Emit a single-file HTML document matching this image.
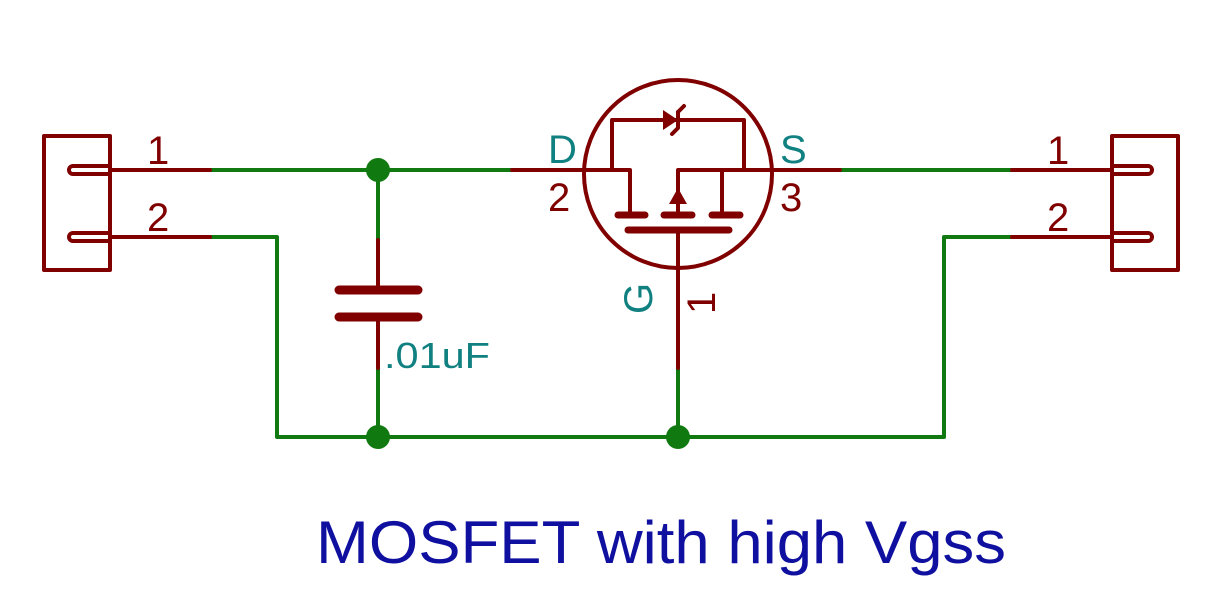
<!DOCTYPE html>
<html><head><style>body{margin:0;background:#fff}svg{display:block}</style></head><body>
<svg width="1219" height="607" viewBox="0 0 1219 607" xmlns="http://www.w3.org/2000/svg">
<g fill="none" stroke-linecap="round" stroke-linejoin="round">
<!-- green wires -->
<g stroke="#107a10" stroke-width="4">
<path d="M210 170H512"/>
<path d="M210 237H277V437H944V237H1012"/>
<path d="M840 170H1012"/>
<path d="M378 170V240"/>
<path d="M378 368V437"/>
<path d="M678 368V437"/>
</g>
<!-- red symbols -->
<g stroke="#800000" stroke-width="4">
<rect x="44" y="136" width="66" height="134"/>
<path d="M110 166H73a4 4 0 0 0 0 8H110"/>
<path d="M110 233H73a4 4 0 0 0 0 8H110"/>
<path d="M110 170H210M110 237H210"/>
<rect x="1112" y="136" width="66" height="134"/>
<path d="M1112 166H1148a4 4 0 0 1 0 8H1112"/>
<path d="M1112 233H1148a4 4 0 0 1 0 8H1112"/>
<path d="M1012 170H1112M1012 237H1112"/>
<path d="M378 240V290M378 317V368"/>
<path d="M339 290H418M339 317H418" stroke-width="9"/>
<circle cx="678" cy="174" r="94"/>
<path d="M512 170H630V215M612 170V120H744V170M678 170H840M722 170V215M678 215V170"/>
<path d="M618 215H645M664 215H692M712 215H740" stroke-width="7"/>
<path d="M628 230H729" stroke-width="7"/>
<path d="M678 230V368"/>
<path d="M678 112V128L672 134"/>
<path d="M678 112L684 106"/>
</g>
</g>
<polygon points="678,188 669,204 687,204" fill="#800000"/>
<polygon points="663,110 663,130 678,120" fill="#800000"/>
<g fill="#107a10">
<circle cx="378" cy="170" r="12"/>
<circle cx="378" cy="437" r="12"/>
<circle cx="678" cy="437" r="12"/>
</g>
<g font-family="'Liberation Sans',sans-serif" font-size="40">
<text x="147" y="164" fill="#800000">1</text>
<text x="147" y="231" fill="#800000">2</text>
<text x="1047" y="164" fill="#800000">1</text>
<text x="1047" y="231" fill="#800000">2</text>
<text x="548" y="163" fill="#108080">D</text>
<text x="548" y="211" fill="#800000">2</text>
<text x="780" y="163" fill="#108080">S</text>
<text x="780" y="211" fill="#800000">3</text>
<text transform="translate(652,314) rotate(-90)" fill="#108080">G</text>
<text transform="translate(715,314) rotate(-90)" fill="#800000">1</text>
<text x="384" y="368" fill="#108080" font-size="36" textLength="106" lengthAdjust="spacingAndGlyphs">.01uF</text>
<text x="316" y="563" fill="#1010a0" font-size="60" textLength="690" lengthAdjust="spacingAndGlyphs">MOSFET with high Vgss</text>
</g>
</svg>
</body></html>
